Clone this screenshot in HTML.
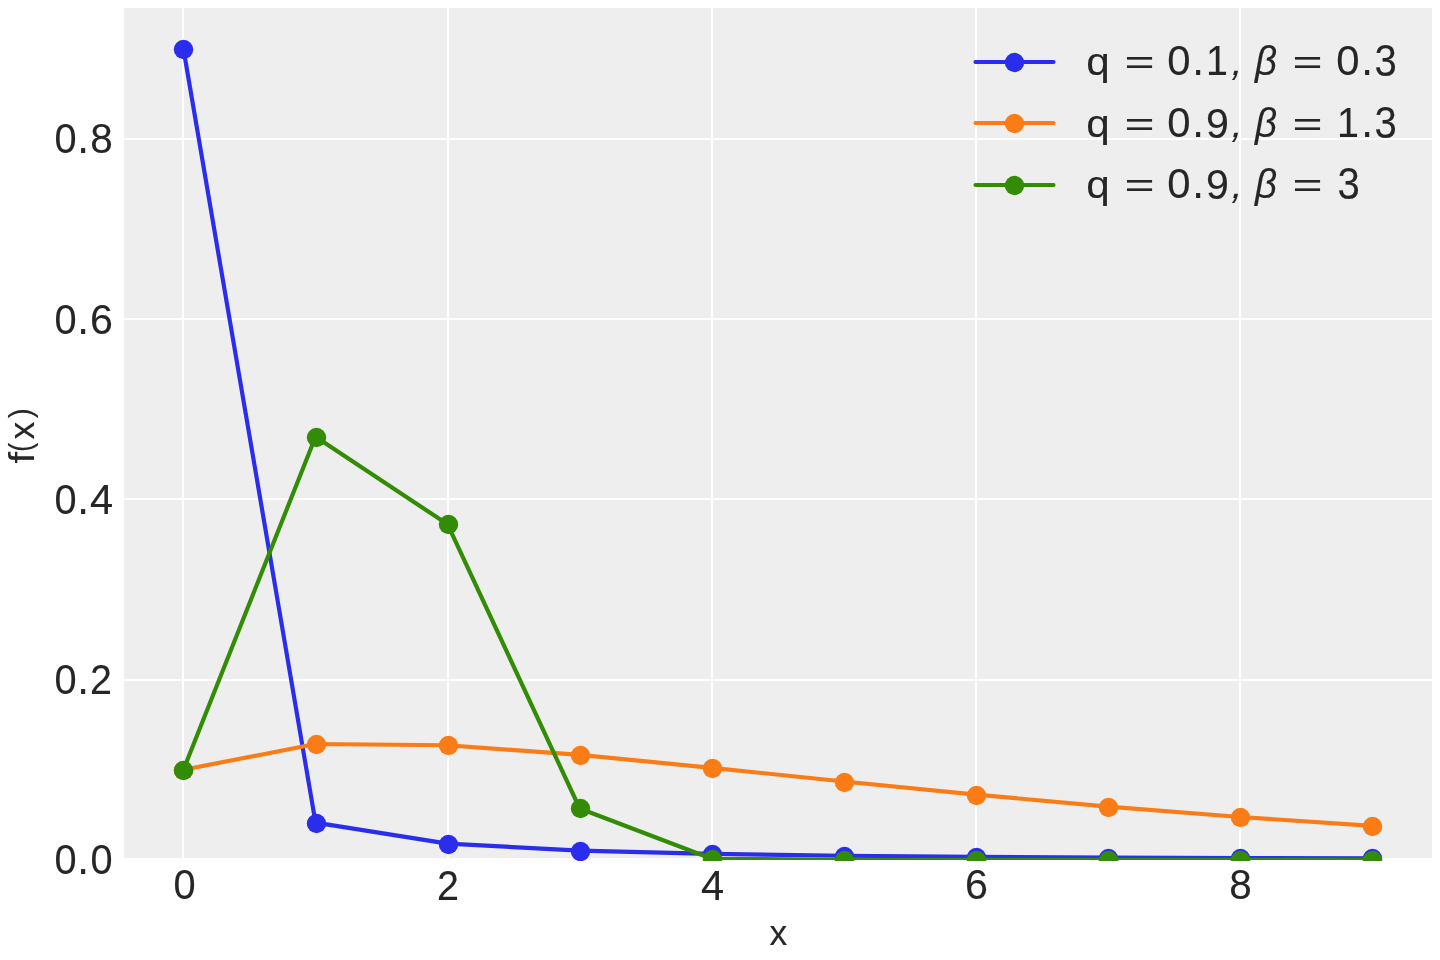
<!DOCTYPE html>
<html><head><meta charset="utf-8"><title>Discrete Weibull pmf</title>
<style>
html,body{margin:0;padding:0;background:#fff;width:1440px;height:960px;overflow:hidden}
svg{display:block;will-change:transform}
text{font-family:"Liberation Sans",sans-serif;font-size:40px;fill:#262626;stroke:#262626;stroke-width:0.1px}
text.i{font-style:italic}
.ln polyline,.ln line{fill:none;stroke-width:4.167;stroke-linecap:round;stroke-linejoin:round}
</style></head><body>
<svg width="1440" height="960" viewBox="0 0 1440 960">
<defs><clipPath id="axl"><rect x="124" y="8" width="1308" height="852"/></clipPath><clipPath id="axm"><rect x="124" y="8" width="1308" height="853"/></clipPath></defs>
<rect x="124" y="8" width="1308" height="850" fill="#eeeeee"/>
<rect x="182" y="8" width="2" height="850" fill="#fff"/><rect x="447" y="8" width="2" height="850" fill="#fff"/><rect x="711" y="8" width="2" height="850" fill="#fff"/><rect x="975" y="8" width="2" height="850" fill="#fff"/><rect x="1239" y="8" width="2" height="850" fill="#fff"/><rect x="124" y="138" width="1308" height="2" fill="#fff"/><rect x="124" y="318" width="1308" height="2" fill="#fff"/><rect x="124" y="498" width="1308" height="2" fill="#fff"/><rect x="124" y="679" width="1308" height="2" fill="#fff"/>
<g class="ln">
<polyline points="183.44,48.88 315.53,822.65 447.61,843.59 579.70,850.64 711.79,853.93 843.88,855.75 975.96,856.85 1108.05,857.58 1240.14,858.08 1372.23,858.43" stroke="#2a2eec" clip-path="url(#axl)"/>
<circle cx="183.5" cy="49.5" r="9.722" fill="#2a2eec" clip-path="url(#axm)"/><circle cx="316.5" cy="823.5" r="9.722" fill="#2a2eec" clip-path="url(#axm)"/><circle cx="448.5" cy="844.5" r="9.722" fill="#2a2eec" clip-path="url(#axm)"/><circle cx="580.5" cy="851.5" r="9.722" fill="#2a2eec" clip-path="url(#axm)"/><circle cx="712.5" cy="854.5" r="9.722" fill="#2a2eec" clip-path="url(#axm)"/><circle cx="844.5" cy="856.5" r="9.722" fill="#2a2eec" clip-path="url(#axm)"/><circle cx="976.5" cy="857.5" r="9.722" fill="#2a2eec" clip-path="url(#axm)"/><circle cx="1108.5" cy="858.5" r="9.722" fill="#2a2eec" clip-path="url(#axm)"/><circle cx="1240.5" cy="858.5" r="9.722" fill="#2a2eec" clip-path="url(#axm)"/><circle cx="1372.5" cy="858.5" r="9.722" fill="#2a2eec" clip-path="url(#axm)"/>
<polyline points="183.44,769.73 315.53,744.04 447.61,745.29 579.70,754.91 711.79,767.81 843.88,781.50 975.96,794.65 1108.05,806.59 1240.14,817.00 1372.23,825.84" stroke="#fa7c17" clip-path="url(#axl)"/>
<circle cx="183.5" cy="770.5" r="9.722" fill="#fa7c17" clip-path="url(#axm)"/><circle cx="316.5" cy="744.5" r="9.722" fill="#fa7c17" clip-path="url(#axm)"/><circle cx="448.5" cy="745.5" r="9.722" fill="#fa7c17" clip-path="url(#axm)"/><circle cx="580.5" cy="755.5" r="9.722" fill="#fa7c17" clip-path="url(#axm)"/><circle cx="712.5" cy="768.5" r="9.722" fill="#fa7c17" clip-path="url(#axm)"/><circle cx="844.5" cy="782.5" r="9.722" fill="#fa7c17" clip-path="url(#axm)"/><circle cx="976.5" cy="795.5" r="9.722" fill="#fa7c17" clip-path="url(#axm)"/><circle cx="1108.5" cy="807.5" r="9.722" fill="#fa7c17" clip-path="url(#axm)"/><circle cx="1240.5" cy="817.5" r="9.722" fill="#fa7c17" clip-path="url(#axm)"/><circle cx="1372.5" cy="826.5" r="9.722" fill="#fa7c17" clip-path="url(#axm)"/>
<polyline points="183.44,769.73 315.53,436.76 447.61,524.35 579.70,808.50 711.79,858.77 843.88,859.83 975.96,859.83 1108.05,859.83 1240.14,859.83 1372.23,859.83" stroke="#328c06" clip-path="url(#axl)"/>
<circle cx="183.5" cy="770.5" r="9.722" fill="#328c06" clip-path="url(#axm)"/><circle cx="316.5" cy="437.5" r="9.722" fill="#328c06" clip-path="url(#axm)"/><circle cx="448.5" cy="524.5" r="9.722" fill="#328c06" clip-path="url(#axm)"/><circle cx="580.5" cy="808.5" r="9.722" fill="#328c06" clip-path="url(#axm)"/><circle cx="712.5" cy="859.5" r="9.722" fill="#328c06" clip-path="url(#axm)"/><circle cx="844.5" cy="860.5" r="9.722" fill="#328c06" clip-path="url(#axm)"/><circle cx="976.5" cy="860.5" r="9.722" fill="#328c06" clip-path="url(#axm)"/><circle cx="1108.5" cy="860.5" r="9.722" fill="#328c06" clip-path="url(#axm)"/><circle cx="1240.5" cy="860.5" r="9.722" fill="#328c06" clip-path="url(#axm)"/><circle cx="1372.5" cy="860.5" r="9.722" fill="#328c06" clip-path="url(#axm)"/>
</g>
<g class="ln">
<line x1="975.50" y1="62.00" x2="1053.50" y2="62.00" stroke="#2a2eec"/><circle cx="1014.50" cy="62.50" r="9.722" fill="#2a2eec"/>
<line x1="975.50" y1="123.00" x2="1053.50" y2="123.00" stroke="#fa7c17"/><circle cx="1014.50" cy="123.50" r="9.722" fill="#fa7c17"/>
<line x1="975.50" y1="185.00" x2="1053.50" y2="185.00" stroke="#328c06"/><circle cx="1014.50" cy="185.50" r="9.722" fill="#328c06"/>
</g>
<g>
<text transform="matrix(0.9937 0 0.0000 1.0417 54.45 873.59)">0</text>
<text transform="matrix(1.0503 0 0.0000 1.1689 77.16 874.00)">.</text>
<text transform="matrix(0.9937 0 0.0000 1.0417 90.45 873.59)">0</text>
<text transform="matrix(0.9937 0 0.0000 1.0417 54.45 693.59)">0</text>
<text transform="matrix(1.0503 0 0.0000 1.1689 77.16 694.00)">.</text>
<text transform="matrix(0.9878 0 0.0000 1.0562 90.01 694.00)">2</text>
<text transform="matrix(0.9937 0 0.0000 1.0417 54.45 513.59)">0</text>
<text transform="matrix(1.0503 0 0.0000 1.1689 77.16 514.00)">.</text>
<text transform="matrix(1.0419 0 0.0000 1.0538 90.04 514.00)">4</text>
<text transform="matrix(0.9937 0 0.0000 1.0417 54.45 333.59)">0</text>
<text transform="matrix(1.0503 0 0.0000 1.1689 77.16 334.00)">.</text>
<text transform="matrix(1.0294 0 0.0000 1.0417 89.91 333.59)">6</text>
<text transform="matrix(0.9937 0 0.0000 1.0417 54.45 152.59)">0</text>
<text transform="matrix(1.0503 0 0.0000 1.1689 77.16 153.00)">.</text>
<text transform="matrix(1.0123 0 0.0000 1.0417 90.24 152.59)">8</text>
<text transform="matrix(0.9937 0 0.0000 1.0417 173.45 898.59)">0</text>
<text transform="matrix(0.9878 0 0.0000 1.0562 437.01 900.00)">2</text>
<text transform="matrix(1.0419 0 0.0000 1.0538 701.04 900.00)">4</text>
<text transform="matrix(1.0294 0 0.0000 1.0417 964.91 898.59)">6</text>
<text transform="matrix(1.0123 0 0.0000 1.0417 1229.24 898.59)">8</text>
<text transform="matrix(0.8891 0 0.0000 0.8991 769.60 945.00)">x</text>
<text transform="rotate(-90) matrix(1.0372 0 0.0000 0.8982 -463.59 34.00)">f</text>
<text transform="rotate(-90) matrix(0.6600 0 0.0000 0.8050 -451.64 31.33)">(</text>
<text transform="rotate(-90) matrix(0.8891 0 0.0000 0.8991 -439.40 34.00)">x</text>
<text transform="rotate(-90) matrix(0.7543 0 0.0000 0.8050 -418.18 31.33)">)</text>
<text transform="matrix(1.0551 0 0.0000 0.9724 1086.23 74.93)">q</text>
<text transform="matrix(1.2864 0 0.0000 0.8533 1124.49 73.73)">=</text>
<text transform="matrix(1.0460 0 0.0000 1.0417 1167.37 74.59)">0</text>
<text transform="matrix(1.0503 0 0.0000 1.1689 1192.16 75.00)">.</text>
<text transform="matrix(0.9857 0 0.0000 1.0538 1206.00 75.00)">1</text>
<text transform="matrix(0.9580 0 -0.2383 0.9580 1229.78 75.10)">,</text>
<text class="i" transform="matrix(0.9627 0 0.0000 1.0192 1254.94 74.54)">β</text>
<text transform="matrix(1.2864 0 0.0000 0.8533 1292.49 73.73)">=</text>
<text transform="matrix(1.0460 0 0.0000 1.0417 1336.37 74.59)">0</text>
<text transform="matrix(1.0503 0 0.0000 1.1689 1361.16 75.00)">.</text>
<text transform="matrix(1.0019 0 0.0000 1.0946 1374.47 75.57)">3</text>
<text transform="matrix(1.0551 0 0.0000 0.9724 1086.23 136.93)">q</text>
<text transform="matrix(1.2864 0 0.0000 0.8533 1124.49 135.73)">=</text>
<text transform="matrix(1.0460 0 0.0000 1.0417 1167.37 136.59)">0</text>
<text transform="matrix(1.0503 0 0.0000 1.1689 1192.16 137.00)">.</text>
<text transform="matrix(1.0283 0 0.0000 1.0770 1206.07 137.58)">9</text>
<text transform="matrix(0.9580 0 -0.2383 0.9580 1229.78 137.10)">,</text>
<text class="i" transform="matrix(0.9627 0 0.0000 1.0192 1254.94 136.54)">β</text>
<text transform="matrix(1.2864 0 0.0000 0.8533 1292.49 135.73)">=</text>
<text transform="matrix(0.9857 0 0.0000 1.0538 1337.00 137.00)">1</text>
<text transform="matrix(1.0503 0 0.0000 1.1689 1361.16 137.00)">.</text>
<text transform="matrix(1.0019 0 0.0000 1.0946 1374.47 137.57)">3</text>
<text transform="matrix(1.0551 0 0.0000 0.9724 1086.23 197.93)">q</text>
<text transform="matrix(1.2864 0 0.0000 0.8533 1124.49 196.73)">=</text>
<text transform="matrix(1.0460 0 0.0000 1.0417 1167.37 197.59)">0</text>
<text transform="matrix(1.0503 0 0.0000 1.1689 1192.16 198.00)">.</text>
<text transform="matrix(1.0283 0 0.0000 1.0770 1206.07 198.58)">9</text>
<text transform="matrix(0.9580 0 -0.2383 0.9580 1229.78 198.10)">,</text>
<text class="i" transform="matrix(0.9627 0 0.0000 1.0192 1254.94 197.54)">β</text>
<text transform="matrix(1.2864 0 0.0000 0.8533 1292.49 196.73)">=</text>
<text transform="matrix(1.0019 0 0.0000 1.0946 1337.47 198.57)">3</text>
</g>
</svg>
</body></html>
